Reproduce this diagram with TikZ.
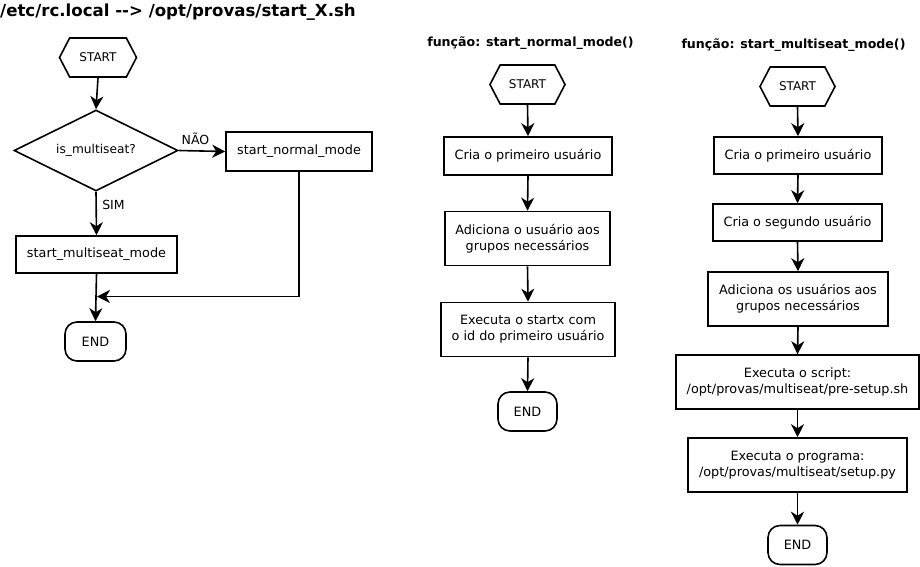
\documentclass[tikz,border=0pt]{standalone}
\usepackage{fontspec}
\setmainfont{DejaVu Sans}
\usetikzlibrary{arrows.meta,shapes.symbols,shapes.geometric}
\begin{document}
\begin{tikzpicture}[x=1pt,y=-1pt,
  every node/.style={font=\fontsize{12.8}{16}\selectfont},
  box/.style={draw,line width=1.6pt,rectangle,align=center,inner sep=0pt},
  hexa/.style={draw,line width=1.6pt,signal,signal to=west and east,signal pointer angle=125,minimum width=77pt,minimum height=39pt,inner sep=0pt,font=\fontsize{12}{14}\selectfont},
  term/.style={draw,line width=1.6pt,rectangle,rounded corners=12pt,minimum width=61pt,minimum height=39pt,inner sep=0pt},
  dec/.style={draw,line width=1.6pt,diamond,aspect=2,minimum width=164pt,minimum height=81pt,inner sep=0pt,font=\fontsize{12.2}{14}\selectfont},
  arr/.style={line width=1.6pt,-{Stealth[length=13pt,width=13pt,inset=4pt]}},
  ttl/.style={font=\bfseries\fontsize{16.6}{19}\selectfont,inner sep=0pt},
  sttl/.style={font=\bfseries\fontsize{12.6}{15}\selectfont,inner sep=0pt},
  lbl/.style={font=\fontsize{12.5}{14}\selectfont,inner sep=0pt}
]
\path[use as bounding box] (0,0) rectangle (920,566);

% Left flowchart
\node[ttl,anchor=base west] (t1) at (0,16) {/etc/rc.local {-}{-}> /opt/provas/start\_X.sh};
\node[hexa] (s1) at (98,57.5) {START};
\node[dec] (d1) at (96,150.5) {is\_multiseat?};
\node[box,minimum width=146pt,minimum height=39pt] (nm) at (299,151.5) {start\_normal\_mode};
\node[box,minimum width=161pt,minimum height=37pt] (ms) at (96.5,254.5) {start\_multiseat\_mode};
\node[term] (e1) at (95.5,341.5) {END};
\coordinate (j1) at (97,296.5);
\node[lbl] (nao) at (195.5,139) {NÃO};
\node[lbl] (sim) at (113.5,205) {SIM};
\draw[arr] (s1.south) -- (d1.north);
\draw[arr] (d1.east) -- (nm.west);
\draw[arr] (d1.south) -- (ms.north);
\draw[arr] (ms.south) -- (e1.north);
\draw[arr] (nm.south) |- (j1);

% Middle flowchart
\node[sttl,anchor=base] (t2) at (530.5,46.5) {função: start\_normal\_mode()};
\node[hexa,minimum width=75pt] (s2) at (527.5,84.5) {START};
\node[box,minimum width=168pt,minimum height=38pt] (a1) at (528,156) {Cria o primeiro usuário};
\node[box,minimum width=165pt,minimum height=54pt] (a2) at (527.5,238.5) {Adiciona o usuário aos\\grupos necessários};
\node[box,minimum width=174pt,minimum height=54pt] (a3) at (528,329.5) {Executa o startx com\\o id do primeiro usuário};
\node[term,minimum width=59pt] (e2) at (527.5,411.5) {END};
\draw[arr] (s2.south) -- (a1.north);
\draw[arr] (a1.south) -- (a2.north);
\draw[arr] (a2.south) -- (a3.north);
\draw[arr] (a3.south) -- (e2.north);

% Right flowchart
\node[sttl,anchor=base] (t3) at (793.5,48) {função: start\_multiseat\_mode()};
\node[hexa,minimum width=75pt] (s3) at (797.5,86.5) {START};
\node[box,minimum width=168pt,minimum height=37pt] (b1) at (798,155.5) {Cria o primeiro usuário};
\node[box,minimum width=169pt,minimum height=37pt] (b2) at (797.5,222.5) {Cria o segundo usuário};
\node[box,minimum width=180pt,minimum height=54pt] (b3) at (798,299) {Adiciona os usuários aos\\grupos necessários};
\node[box,minimum width=243pt,minimum height=54pt] (b4) at (797.5,382) {Executa o script:\\/opt/provas/multiseat/pre-setup.sh};
\node[box,minimum width=219pt,minimum height=54pt] (b5) at (797.5,465) {Executa o programa:\\/opt/provas/multiseat/setup.py};
\node[term,minimum width=59pt] (e3) at (797.5,545) {END};
\draw[arr] (s3.south) -- (b1.north);
\draw[arr] (b1.south) -- (b2.north);
\draw[arr] (b2.south) -- (b3.north);
\draw[arr] (b3.south) -- (b4.north);
\draw[arr] (b4.south) -- (b5.north);
\draw[arr] (b5.south) -- (e3.north);
\end{tikzpicture}
\end{document}
